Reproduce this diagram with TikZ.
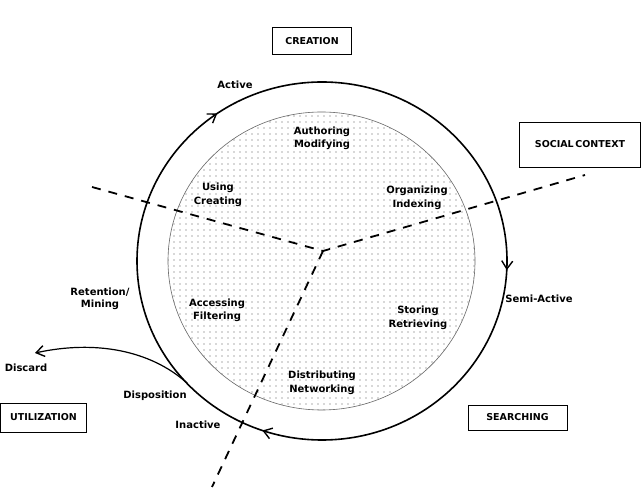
\documentclass[tikz,border=0pt]{standalone}
\usepackage{fontspec}
\setmainfont{DejaVu Sans}
\usepackage{tikz}
\usetikzlibrary{calc,positioning,arrows.meta,decorations.markings,patterns.meta}
\tikzset{
    stage box/.style={
        draw,thin,
        fill=white,
        font=\bfseries\fontsize{9.5}{11}\selectfont
    },
    task label/.style={
        align=center,inner sep=1pt,
        font=\bfseries\fontsize{10}{13.5}\selectfont
    },
    flow label/.style={
        align=center,inner sep=1pt,
        font=\bfseries\fontsize{10}{12}\selectfont
    },
    phase line/.style={
        line width=1.8pt,dash pattern=on 9pt off 8pt
    },
    >={Straight Barb[length=8pt,width=11pt,line width=1.4pt]}
}

\begin{document}
\begin{tikzpicture}[x=1pt,y=1pt]
\fill[white] (0,0) rectangle (644,500);
\useasboundingbox (0,0) rectangle (644,500);
\coordinate (ctr) at (322,239);
\draw[line width=1.6pt,
    decoration={markings,
        mark=at position 0.347 with {\arrowreversed{>}},
        mark=at position 0.697 with {\arrowreversed{>}},
        mark=at position 0.992 with {\arrowreversed{>}}},
    postaction={decorate}]
    (ctr) ellipse [x radius=185,y radius=179];
\draw[draw=black!60,line width=.6pt,pattern={Dots[distance=6pt,radius=.55pt]},pattern color=black!65]
    (321.5,239) ellipse [x radius=153.5,y radius=149];
\coordinate (hub) at (323,249);
\coordinate (split left) at (92,313);
\coordinate (split right) at (585,325);
\coordinate (split down) at (212,13);
\draw[phase line] (split left) -- (hub) -- (split right);
\draw[phase line] (hub) -- (split down);
\foreach \name/\x/\y/\txt in {author/322/361.5/{Authoring\\Modifying},
        using/218/305/{Using\\Creating},
        organize/417/302/{Organizing\\Indexing},
        access/217/189.5/{Accessing\\Filtering},
        store/418/182/{Storing\\Retrieving},
        distribute/322/117/{Distributing\\Networking}}
    \node[task label] (\name) at (\x,\y) {\txt};
\foreach \name/\x/\y/\txt in {active/235/415/Active,
        semiactive/539/201/Semi-Active,
        inactive/198/75/Inactive,
        disposition/155/104/Disposition,
        retention/100/201/{Retention/\\Mining},
        discard/26/132/Discard}
    \node[flow label] (\name) at (\x,\y) {\txt};
\node[stage box,minimum width=79,minimum height=27] (creation) at (312,459) {CREATION};
\node[stage box,minimum width=121,minimum height=45] (social) at (580,355.5) {SOCIAL\,CONTEXT};
\node[stage box,minimum width=86,minimum height=29] (utilization) at (43.5,82.5) {UTILIZATION};
\node[stage box,minimum width=99,minimum height=25] (searching) at (517.5,82.5) {SEARCHING};
\coordinate (discard start) at (187,117);
\coordinate (discard tip) at (35,147);
\draw[->,line width=1.2pt] (discard start) .. controls (150,150) and (95,160) .. (discard tip);
\end{tikzpicture}
\end{document}
